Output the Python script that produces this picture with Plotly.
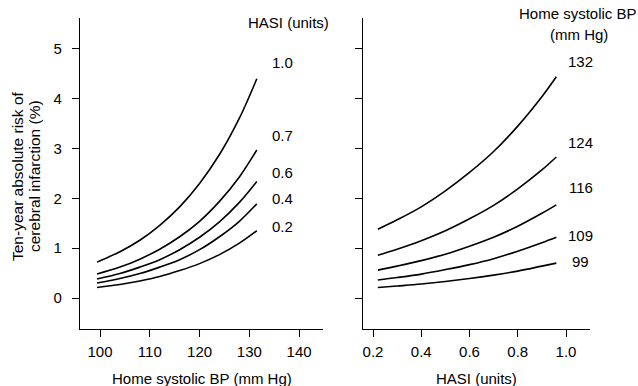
import plotly.graph_objects as go

# ---- Left panel: risk vs home systolic BP, one curve per HASI level ----
bp_values = [99.4, 104, 108, 112, 116, 120, 124, 128, 131.5]
hasi_labels = ["1.0", "0.7", "0.6", "0.4", "0.2"]
risk_hasi_10 = [0.72, 0.93, 1.16, 1.46, 1.83, 2.30, 2.88, 3.61, 4.40]
risk_hasi_07 = [0.48, 0.62, 0.78, 0.98, 1.23, 1.54, 1.94, 2.43, 2.97]
risk_hasi_06 = [0.38, 0.49, 0.62, 0.77, 0.97, 1.22, 1.53, 1.92, 2.34]
risk_hasi_04 = [0.30, 0.39, 0.49, 0.62, 0.77, 0.97, 1.23, 1.54, 1.89]
risk_hasi_02 = [0.21, 0.27, 0.34, 0.43, 0.55, 0.69, 0.87, 1.10, 1.35]

# ---- Right panel: risk vs HASI, one curve per home systolic BP level ----
hasi_values = [0.22, 0.30, 0.40, 0.50, 0.60, 0.70, 0.80, 0.90, 0.96]
bp_labels = ["132", "124", "116", "109", "99"]
risk_bp_132 = [1.38, 1.57, 1.83, 2.15, 2.52, 2.94, 3.45, 4.04, 4.44]
risk_bp_124 = [0.86, 0.98, 1.15, 1.35, 1.59, 1.86, 2.19, 2.57, 2.83]
risk_bp_116 = [0.56, 0.64, 0.75, 0.88, 1.04, 1.22, 1.44, 1.70, 1.87]
risk_bp_109 = [0.36, 0.41, 0.48, 0.57, 0.67, 0.79, 0.94, 1.11, 1.22]
risk_bp_99 = [0.21, 0.24, 0.28, 0.33, 0.39, 0.46, 0.54, 0.64, 0.70]

y_ticks = [0, 1, 2, 3, 4, 5]
left_x_ticks = [100, 110, 120, 130, 140]
right_x_ticks = [0.2, 0.4, 0.6, 0.8, 1.0]
right_x_ticktext = ["0.2", "0.4", "0.6", "0.8", "1.0"]

W, H = 638, 386
FONT = "Liberation Sans, Arial, Helvetica, sans-serif"
FS = 15

def px(x):
    return x / W

def py(y):
    return 1 - y / H

fig = go.Figure()

left_series = [risk_hasi_10, risk_hasi_07, risk_hasi_06, risk_hasi_04, risk_hasi_02]
for name, ys in zip(hasi_labels, left_series):
    fig.add_trace(go.Scatter(x=bp_values, y=ys, mode="lines", name=name,
                             line=dict(color="black", width=1.6, shape="spline"),
                             xaxis="x", yaxis="y", showlegend=False))

right_series = [risk_bp_132, risk_bp_124, risk_bp_116, risk_bp_109, risk_bp_99]
for name, ys in zip(bp_labels, right_series):
    fig.add_trace(go.Scatter(x=hasi_values, y=ys, mode="lines", name=name,
                             line=dict(color="black", width=1.6, shape="spline"),
                             xaxis="x2", yaxis="y2", showlegend=False))

axis_common = dict(showline=True, linecolor="black", linewidth=1.3,
                   ticks="outside", ticklen=7, tickwidth=1.2, tickcolor="black",
                   showgrid=False, zeroline=False,
                   tickfont=dict(family=FONT, size=FS, color="black"))

y_bottom, y_top = 329, 18
fig.update_layout(
    width=W, height=H,
    margin=dict(l=0, r=0, t=0, b=0),
    paper_bgcolor="white", plot_bgcolor="white",
    font=dict(family=FONT, size=FS, color="black"),
    xaxis=dict(domain=[px(80), px(323)], range=[95.98, 144.8],
               tickvals=left_x_ticks, anchor="y", ticklabelstandoff=2, **axis_common),
    yaxis=dict(domain=[py(y_bottom), py(y_top)], range=[-0.622, 5.62],
               tickvals=y_ticks, anchor="x", ticklabelstandoff=7, **axis_common),
    xaxis2=dict(domain=[px(362.7), px(590)], range=[0.1573, 1.0995],
                tickvals=right_x_ticks, ticktext=right_x_ticktext, anchor="y2",
                ticklabelstandoff=2, **axis_common),
    yaxis2=dict(domain=[py(y_bottom), py(y_top)], range=[-0.622, 5.62],
                tickvals=y_ticks, showticklabels=False, anchor="x2", **axis_common),
)

def ann(text, x, y, angle=0, size=FS):
    fig.add_annotation(text=text, x=px(x), y=py(y), xref="paper", yref="paper",
                       showarrow=False, xanchor="center", yanchor="middle",
                       textangle=angle, font=dict(family=FONT, size=size, color="black"))

# axis titles
ann("Home systolic BP (mm Hg)", 202, 378)
ann("HASI (units)", 476, 378)
ann("Ten-year absolute risk of", 17, 176, -90, 15.5)
ann("cerebral infarction (%)", 34, 176, -90, 15.5)

# left curve labels
ann("HASI (units)", 288, 23)
for lab, yy in zip(hasi_labels, [62, 135, 172, 198, 226]):
    ann(lab, 282, yy)

# right curve labels
ann("Home systolic BP", 578, 13)
ann("(mm Hg)", 579, 35)
for lab, yy in zip(bp_labels, [61, 142, 188, 236, 261]):
    ann(lab, 580.5, yy)

fig.write_html("out.html", config={"displayModeBar": False},
               post_script="document.body.style.margin='0';document.body.style.overflow='hidden';")
